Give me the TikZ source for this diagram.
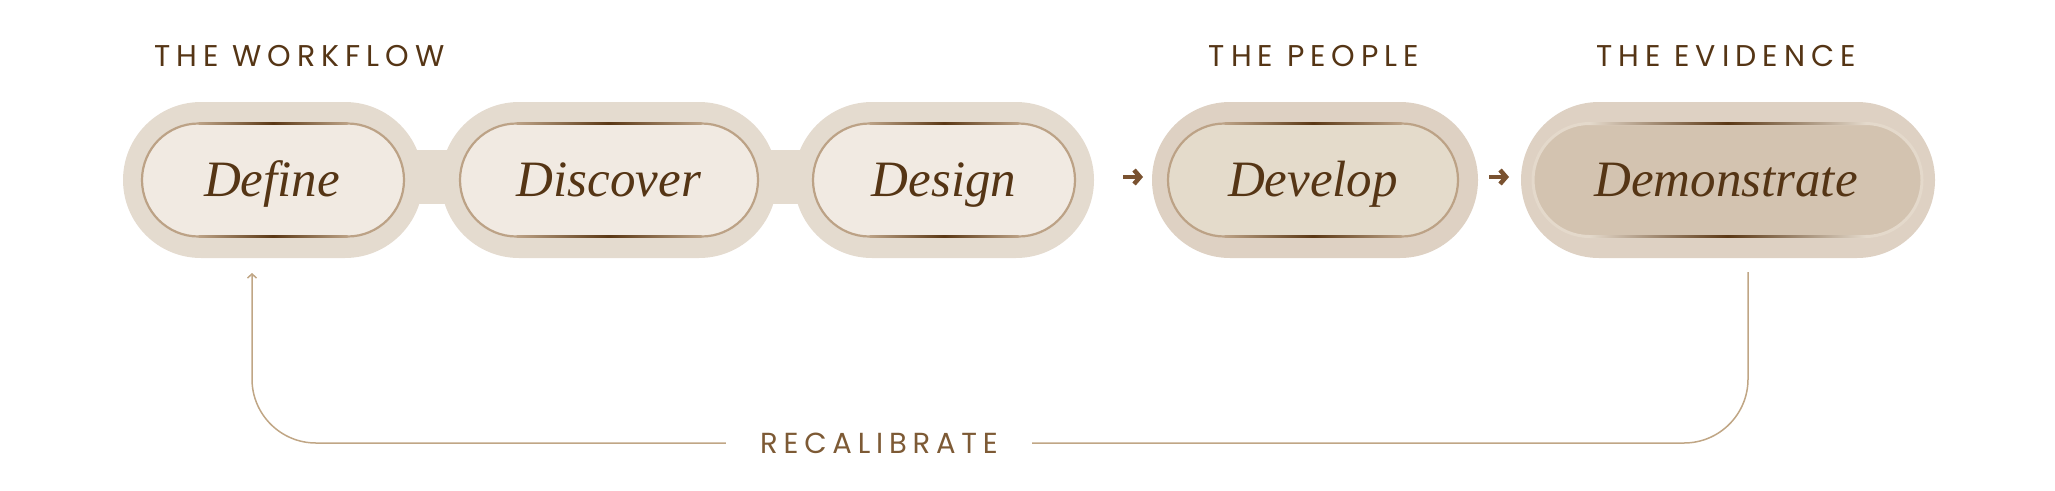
\documentclass[tikz,border=0pt]{standalone}
\usepackage{fontspec}
\newfontfamily\capsfont[LetterSpace=20]{Poppins}
\newfontfamily\wordfont{Liberation Serif}
\usetikzlibrary{arrows.meta,shapes.misc}
\definecolor{outerA}{HTML}{E4DBCF}
\definecolor{innerA}{HTML}{F1EAE2}
\definecolor{outerB}{HTML}{DED1C3}
\definecolor{innerB}{HTML}{E4DBCB}
\definecolor{innerC}{HTML}{D3C3B0}
\definecolor{ringC}{HTML}{E4D9CB}
\definecolor{rimtan}{HTML}{BCA286}
\definecolor{rimdark}{HTML}{5A3714}
\definecolor{inkdark}{HTML}{553515}
\definecolor{arrowc}{HTML}{7A5230}
\definecolor{loopc}{HTML}{C0A685}
\definecolor{recalc}{HTML}{7D5A35}
\newcommand\rimglow[3][rimtan]{%
  \shade[left color=#1,right color=#1,middle color=rimdark] (#2,122.4) rectangle (#3,124.7);
  \shade[left color=#1,right color=#1,middle color=rimdark] (#2,235.3) rectangle (#3,237.6);
}
\begin{document}
\begin{tikzpicture}[x=1pt,y=-1pt,
  outerpill/.style={rounded rectangle, minimum height=156pt, inner sep=0pt, outer sep=0pt, draw=none},
  innerpill/.style={rounded rectangle, minimum height=113pt, inner sep=0pt, outer sep=0pt, draw=rimtan, line width=2.2pt},
  word/.style={font=\wordfont\itshape\fontsize{51}{51}\selectfont, text=inkdark, anchor=base, inner sep=0pt},
  head/.style={font=\capsfont\fontsize{30}{30}\selectfont, text=inkdark, anchor=base, inner sep=0pt},
  smallarrow/.style={draw=arrowc, line width=4.5pt, -{Straight Barb[length=6pt,width=14pt]}},
  loopline/.style={draw=loopc, line width=1.5pt, rounded corners=64pt},
]
\useasboundingbox (0,0) rectangle (2055,490);

% bridges
\fill[outerA] (405,150) rectangle (460,204);
\fill[outerA] (760,150) rectangle (812,204);

% outer pills
\node[outerpill, fill=outerA, minimum width=300pt] (defineout) at (273,180) {};
\node[outerpill, fill=outerA, minimum width=336pt] (discoverout) at (609,180) {};
\node[outerpill, fill=outerA, minimum width=300pt] (designout) at (944,180) {};
\node[outerpill, fill=outerB, minimum width=326pt] (developout) at (1315,180) {};
\node[outerpill, fill=outerB, minimum width=414pt] (demoout) at (1728,180) {};

% inner pills
\node[innerpill, fill=innerA, minimum width=262pt] (definein) at (273,180) {};
\node[innerpill, fill=innerA, minimum width=298pt] (discoverin) at (609,180) {};
\node[innerpill, fill=innerA, minimum width=262pt] (designin) at (944,180) {};
\node[innerpill, fill=innerB, minimum width=290pt] (developin) at (1313,180) {};
\node[innerpill, fill=innerC, draw=ringC, line width=3pt, minimum width=389pt] (demoin) at (1727.5,180) {};

\rimglow{198.5}{347.5}
\rimglow{516.5}{701.5}
\rimglow{869.5}{1018.5}
\rimglow{1224.5}{1401.5}
\rimglow[ringC]{1589.5}{1865.5}

% words
\node[word] (definet) at (272,196) {Define};
\node[word] (discovert) at (609,196) {Discover};
\node[word] (designt) at (944,196) {Design};
\node[word] (developt) at (1313,196) {Develop};
\node[word] (demot) at (1726,196) {Demonstrate};

% headings
\node[head, anchor=base west] (hwork) at (154,66) {THE WORKFLOW};
\node[head] (hpeople) at (1314,66) {THE PEOPLE};
\node[head] (hevid) at (1726,66) {THE EVIDENCE};

% small arrows
\draw[smallarrow, shorten <=29pt, shorten >=9pt] ([yshift=3pt]designout.east) -- ([yshift=3pt]developout.west);
\draw[smallarrow, shorten <=11pt, shorten >=12pt] ([yshift=3pt]developout.east) -- ([yshift=3pt]demoout.west);

% recalibrate loop
\node[font=\capsfont\fontsize{29}{29}\selectfont, text=recalc, inner xsep=34pt, inner ysep=0pt] (recal) at (879,443) {RECALIBRATE};
\coordinate (lstart) at (1748,272);
\coordinate (lend) at (252,273);
\draw[loopline] (lstart) |- (recal.east);
\draw[loopline, -{Straight Barb[length=4pt,width=9pt]}] (recal.west) -| (lend);
\end{tikzpicture}
\end{document}
